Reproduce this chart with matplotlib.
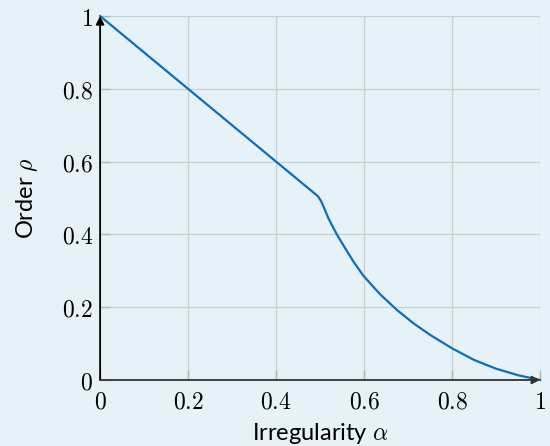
import matplotlib.pyplot as plt

# Werte
alpha = [0, 0.495, 0.502, 0.508, 0.519, 0.538, 0.557, 0.576, 0.598, 0.636,
         0.675, 0.712, 0.75, 0.8, 0.85, 0.9, 0.95, 1.0]
rho = [1, 0.505, 0.492, 0.476, 0.444, 0.400, 0.362, 0.325, 0.287, 0.236,
       0.192, 0.156, 0.124, 0.087, 0.055, 0.031, 0.013, 0]

xticks = [0, 0.2, 0.4, 0.6, 0.8, 1]
xlabels = ['$0$', '$0.2$', '$0.4$', '$0.6$', '$0.8$', '$1$']
yticks = [0, 0.2, 0.4, 0.6, 0.8, 1]
ylabels = ['$0$', '$0.2$', '$0.4$', '$0.6$', '$0.8$', '$1$']

bg = '#e6f1f8'
plt.rcParams['mathtext.fontset'] = 'cm'

fig = plt.figure(figsize=(5.5, 4.46), dpi=100, facecolor=bg)
ax = fig.add_axes([0.182, 0.148, 0.8, 0.816], facecolor=bg)

ax.plot(alpha, rho, color='#0b6fbf', lw=1.6, zorder=3, clip_on=False,
        solid_joinstyle='round')

ax.set_xlim(0, 1)
ax.set_ylim(0, 1)
ax.set_xticks(xticks)
ax.set_xticklabels(xlabels)
ax.set_yticks(yticks)
ax.set_yticklabels(ylabels)
ax.tick_params(direction='in', length=7, width=1, color='#b0b6bc',
               labelsize=17)
ax.tick_params(axis='x', pad=7)
ax.tick_params(axis='y', pad=5)
ax.grid(True, color='#c9d0d6', lw=0.9)

for s in ax.spines.values():
    s.set_visible(False)

# achsen mit pfeilspitzen
arrow = dict(arrowstyle='-|>', color='black', lw=1.3,
             mutation_scale=12, shrinkA=0, shrinkB=0)
ax.annotate('', xy=(0, 1.0), xytext=(0, 0), xycoords='axes fraction',
            arrowprops=arrow, annotation_clip=False, zorder=4)
ax.annotate('', xy=(1.0, 0), xytext=(0, 0), xycoords='axes fraction',
            arrowprops=dict(arrow, color='#333333'), annotation_clip=False, zorder=4)

ax.set_xlabel(r'Irregularity $\alpha$', fontsize=17, family='Lato', labelpad=5)
ax.set_ylabel(r'Order $\rho$', fontsize=17, family='Lato', labelpad=16)

fig.savefig('out.png', dpi=100, facecolor=bg)
